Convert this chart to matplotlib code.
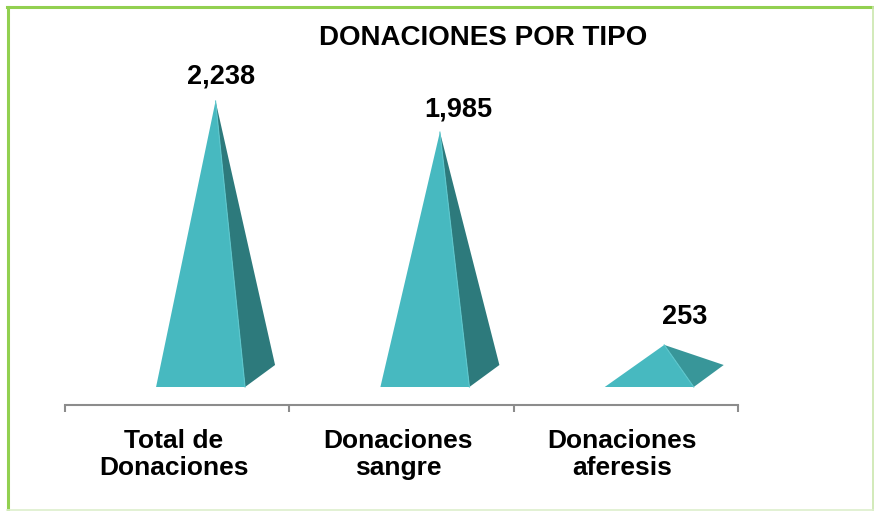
import matplotlib.pyplot as plt
from matplotlib.patches import Polygon
from matplotlib.lines import Line2D

# Datos
categorias = ['Total de\nDonaciones', 'Donaciones\nsangre', 'Donaciones\naferesis']
valores = [2238, 1985, 253]
etiquetas = ['2,238', '1,985', '253']

# Estilo
cor_frente = '#47B9C0'
cor_lado = ['#2D7A7C', '#2D7A7C', '#389699']
fonte = 'Liberation Sans'

# geometria (px da imagem de 874x511)
W, H = 874, 511
px_x = (738 - 65) / 3.0          # px por categoria
px_y = 275 / 2238.0              # px por unidade
desl = 23.4 / px_x               # deslocamento da base em relação ao centro
meia = 44.5 / px_x               # meia largura da base
prof_x = 30 / px_x               # profundidade em x
prof_y = 11 / px_y               # meia profundidade em y

fig = plt.figure(figsize=(W / 100, H / 100), dpi=100)
topo = 20
ax = fig.add_axes([65 / W, (H - 405) / H, (738 - 65) / W, (405 - topo) / H])
ax.set_xlim(-0.5, 2.5)
ax.set_ylim(-29 / px_y, (376 - topo) / px_y)

for i, v in enumerate(valores):
    c = i + desl
    fl = (c - meia, -prof_y)
    fr = (c + meia, -prof_y)
    br = (c + meia + prof_x, prof_y)
    apice = (c + prof_x / 2, v)
    ax.add_patch(Polygon([fr, br, apice], closed=True, facecolor=cor_lado[i], edgecolor='none'))
    ax.add_patch(Polygon([fl, fr, apice], closed=True, facecolor=cor_frente, edgecolor='none'))
    ax.plot([fr[0], apice[0]], [fr[1], apice[1]], color='#5CC6CC', lw=0.8)

# rótulos de valor
offs = [(5, 18), (18, 16), (20, 21)]
for i, v in enumerate(valores):
    ax.annotate(etiquetas[i], (i + desl + prof_x / 2, v), xytext=offs[i], textcoords='offset pixels',
                ha='center', va='baseline', fontsize=19.5, fontweight='bold', family=fonte)

# eixo
for s in ['top', 'right', 'left']:
    ax.spines[s].set_visible(False)
ax.spines['bottom'].set_color('#8C8C8C')
ax.spines['bottom'].set_linewidth(1.5)
ax.set_yticks([])
# rótulos ligeiramente à esquerda do centro, como no original
ax.set_xticks([i - 3.5 / px_x for i in range(len(categorias))])
ax.set_xticklabels(categorias, fontsize=19, fontweight='bold', family=fonte, linespacing=1.12)
ax.tick_params(axis='x', which='major', length=0, pad=17.5)
ax.set_xticks([-0.5, 0.5, 1.5, 2.5], minor=True)
ax.tick_params(axis='x', which='minor', length=5, width=1.5, color='#8C8C8C')
ax.patch.set_visible(False)

# título
fig.text(483 / W, 1 - 45 / H, 'DONACIONES POR TIPO', ha='center', va='baseline',
         fontsize=20, fontweight='bold', family=fonte)

# moldura verde
fig.add_artist(Line2D([8 / W, 8 / W], [0, 1 - 7.5 / H], color='#92D050', lw=2.2, transform=fig.transFigure))
fig.add_artist(Line2D([7 / W, 1], [1 - 7.5 / H, 1 - 7.5 / H], color='#92D050', lw=2.2, transform=fig.transFigure))
fig.add_artist(Line2D([873 / W, 873 / W], [0, 1 - 7.5 / H], color='#CBE6AE', lw=1.2, transform=fig.transFigure))
fig.add_artist(Line2D([7 / W, 1], [1 / H, 1 / H], color='#DDEFCC', lw=1.2, transform=fig.transFigure))

fig.savefig('out.png', dpi=100)
